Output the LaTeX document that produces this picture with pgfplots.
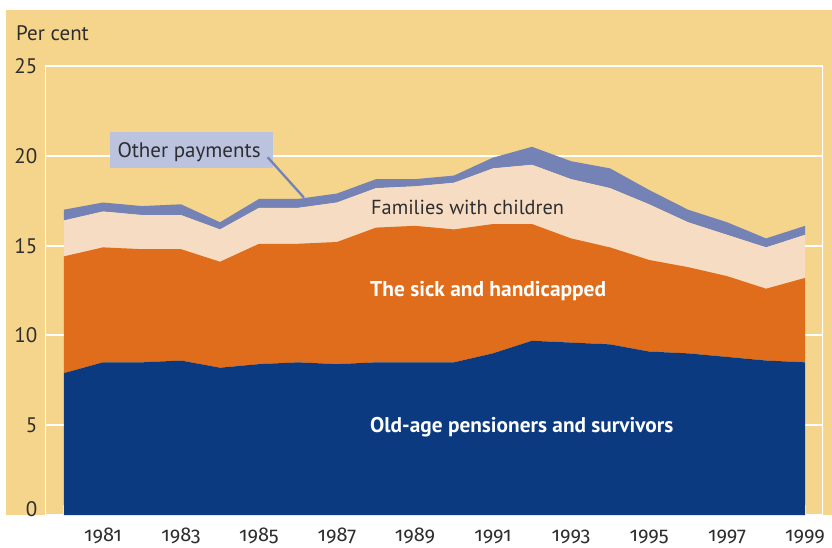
\documentclass[border=0pt]{standalone}
\usepackage{fontspec}
\setmainfont{PT Sans}
\newfontfamily\yearfont{Fira Sans}[Numbers=OldStyle]
\usepackage{pgfplots}
\usepackage{pgfplotstable}
\pgfplotsset{compat=1.18}
\definecolor{bgyellow}{HTML}{F5D48B}
\definecolor{oldblue}{HTML}{0B3A80}
\definecolor{sickorange}{HTML}{DF6D1B}
\definecolor{fampeach}{HTML}{F7DCC4}
\definecolor{otherblue}{HTML}{7482B5}
\definecolor{boxblue}{HTML}{BBC3DF}
\definecolor{txt}{HTML}{2E2E2E}
\pgfplotstableread{
year old sick fam other
1980 7.9 6.5 2.0 0.6
1981 8.5 6.4 2.0 0.5
1982 8.5 6.3 1.9 0.5
1983 8.6 6.2 1.9 0.6
1984 8.2 5.9 1.8 0.4
1985 8.4 6.7 2.0 0.5
1986 8.5 6.6 2.0 0.5
1987 8.4 6.8 2.2 0.5
1988 8.5 7.5 2.2 0.5
1989 8.5 7.6 2.2 0.4
1990 8.5 7.4 2.6 0.4
1991 9.0 7.2 3.1 0.6
1992 9.7 6.5 3.3 1.0
1993 9.6 5.8 3.3 1.0
1994 9.5 5.4 3.3 1.1
1995 9.1 5.1 3.1 0.8
1996 9.0 4.8 2.5 0.7
1997 8.8 4.5 2.3 0.7
1998 8.6 4.0 2.3 0.5
1999 8.5 4.7 2.4 0.5
}\data
\begin{document}
\begin{tikzpicture}
\useasboundingbox (-45pt,-32pt) rectangle (787pt,515pt);
\fill[white] (-45pt,-32pt) rectangle (787pt,515pt);
\fill[bgyellow] (-39pt,0pt) rectangle (787pt,505pt);
\begin{axis}[
  at={(0pt,0pt)}, anchor=south west,
  scale only axis, width=778pt, height=449pt,
  xmin=1979.513, xmax=1999.46, ymin=0, ymax=25,
  stack plots=y,
  axis line style={draw=none},
  tick style={draw=none},
  xtick={1981,1983,1985,1987,1989,1991,1993,1995,1997,1999},
  xticklabels={1981,1983,1985,1987,1989,1991,1993,1995,1997,1999},
  xticklabel style={font=\yearfont\fontsize{20pt}{22pt}\selectfont, text=txt, anchor=base, inner sep=0pt, yshift=-26.5pt},
  ytick={0,5,10,15,20,25},
  yticklabels={\raisebox{6pt}{0},5,10,15,20,25},
  yticklabel style={font=\fontsize{21pt}{24pt}\selectfont, text=txt, anchor=base east, inner sep=0pt, yshift=-7.5pt, xshift=-7.5pt},
  ymajorgrids,
  major grid style={white, line width=2pt},
]
\addplot[fill=oldblue, draw=none] table[x=year, y=old] {\data} \closedcycle;
\addplot[fill=sickorange, draw=none] table[x=year, y=sick] {\data} \closedcycle;
\addplot[fill=fampeach, draw=none] table[x=year, y=fam] {\data} \closedcycle;
\addplot[fill=otherblue, draw=none] table[x=year, y=other] {\data} \closedcycle;
\pgfplotsinvokeforeach{1980,1981,1982,1983,1984,1985,1986,1987,1988,1989,1990,1991,1992,1993,1994,1995,1996,1997,1998,1999}{
  \draw[white, line width=2pt] (axis cs:#1,0) -- ++(0pt,10pt);
}
\draw[white, line width=2pt] (rel axis cs:0,0) -- (rel axis cs:0,1) -- (rel axis cs:1,1) -- (rel axis cs:1,0);
\end{axis}
\node[anchor=base west, inner sep=0pt, text=txt, font=\fontsize{21pt}{24pt}\selectfont] at (-29pt,474pt) {Per cent};
\node[anchor=base west, inner sep=0pt, text=txt, font=\fontsize{20.3pt}{24pt}\selectfont] at (326pt,301pt) {Families with children};
\node[anchor=base west, inner sep=0pt, text=white, font=\bfseries\fontsize{21.4pt}{24pt}\selectfont] at (325pt,219pt) {The sick and handicapped};
\node[anchor=base west, inner sep=0pt, text=white, font=\bfseries\fontsize{21.3pt}{24pt}\selectfont] at (325pt,82.7pt) {Old-age pensioners and survivors};
\fill[boxblue] (65pt,347.3pt) rectangle (227.7pt,382.7pt);
\node[anchor=base west, inner sep=0pt, text=txt, font=\fontsize{21pt}{24pt}\selectfont] at (72.3pt,357.3pt) {Other payments};
\draw[otherblue, line width=2.3pt] (222.7pt,357.7pt) -- (259pt,317.3pt);
\end{tikzpicture}
\end{document}
